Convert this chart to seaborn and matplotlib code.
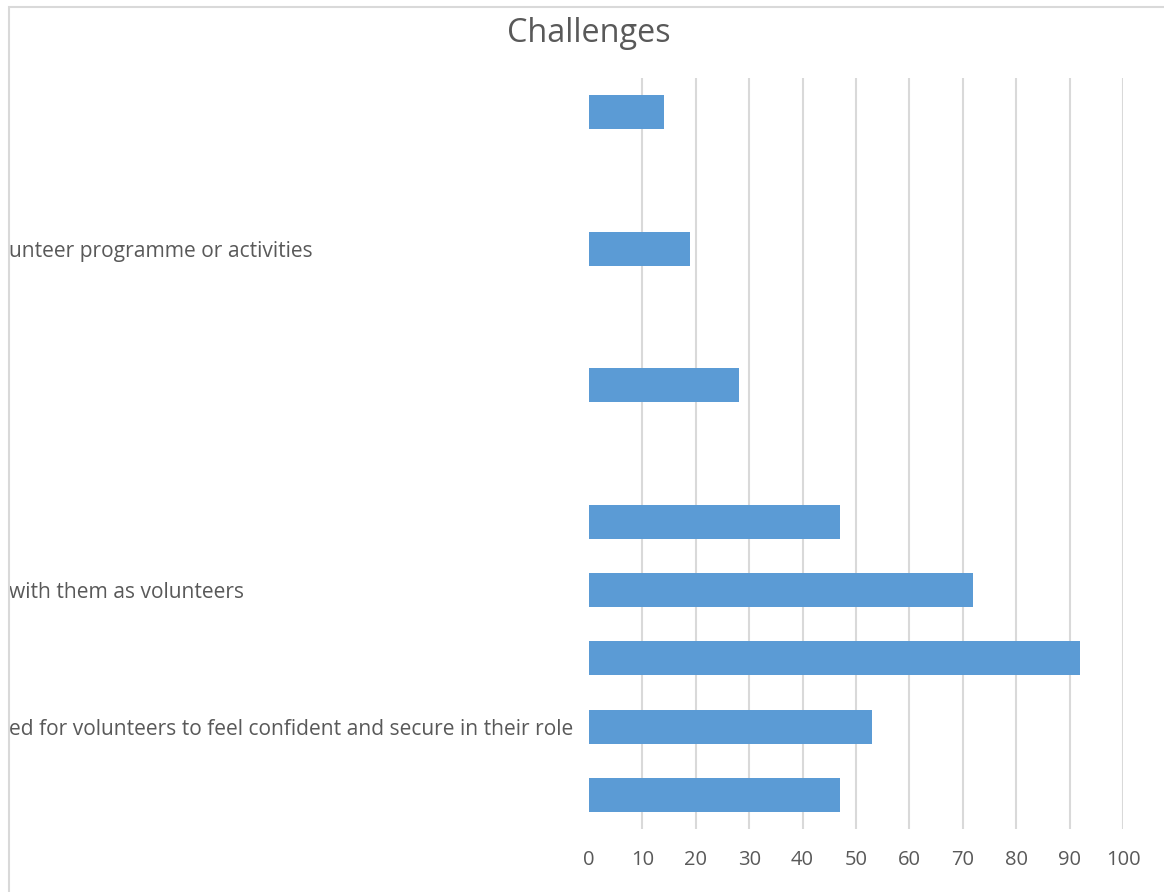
import matplotlib
matplotlib.use("Agg")
import matplotlib.pyplot as plt
import matplotlib.transforms as mtransforms
from matplotlib.patches import Rectangle
import seaborn as sns
import pandas as pd

# Data (top to bottom, as shown in the chart)
category_keys = ["C1", "C2", "C3", "C4", "C5", "C6", "C7", "C8", "C9", "C10", "C11"]
category_labels = [
    "",
    "",
    "unteer programme or activities",
    "",
    "",
    "",
    "",
    "with them as volunteers",
    "",
    "ed for volunteers to feel confident and secure in their role",
    "",
]
values = [14, 0, 19, 0, 28, 0, 47, 72, 92, 53, 47]
x_ticks = [0, 10, 20, 30, 40, 50, 60, 70, 80, 90, 100]
title = "Challenges"

df = pd.DataFrame({"category": category_keys, "value": values})

sns.set_theme(style="white")
plt.rcParams["font.family"] = ["Open Sans", "DejaVu Sans"]

W, H = 1164, 892
fig = plt.figure(figsize=(W / 100, H / 100), dpi=100)
ax = fig.add_axes([589 / W, 1 - 829 / H, (1123 - 589) / W, (829 - 78) / H])

bar_color = "#5B9BD5"
text_color = "#595959"
grid_color = "#D9D9D9"

sns.barplot(data=df, x="value", y="category", order=category_keys, orient="h",
            color=bar_color, width=0.5, saturation=1, ax=ax, zorder=3,
            linewidth=0)

ax.set_xlim(0, 100)
ax.set_ylim(len(category_keys) - 0.5, -0.5)
ax.set_xticks(x_ticks)
ax.set_xticklabels([str(t) for t in x_ticks])
ax.set_yticks([])
ax.set_xlabel("")
ax.set_ylabel("")
for s in ax.spines.values():
    s.set_visible(False)

ax.tick_params(axis="x", length=0, pad=15, labelsize=14.5, labelcolor=text_color)
ax.grid(axis="x", color=grid_color, linewidth=1.5, zorder=0)
ax.set_axisbelow(True)
gl = ax.xaxis.get_gridlines()
if gl:
    gl[0].set_visible(False)

# Category labels (clipped at the left of the chart)
trans = mtransforms.blended_transform_factory(fig.transFigure, ax.transData)
for i, lab in enumerate(category_labels):
    if lab:
        ax.text(9 / W, i, lab, transform=trans, ha="left", va="center_baseline",
                fontsize=15.1, color=text_color, clip_on=False)

fig.text(589 / W, 1 - 33 / H, title, ha="center", va="center",
         fontsize=23.3, color=text_color)

# Chart border (left and top edges visible)
fig.add_artist(Rectangle((8.5 / W, -0.5), 2.0, 1.5 - 6.5 / H,
                         transform=fig.transFigure, fill=False,
                         edgecolor=grid_color, linewidth=1.5))

fig.savefig("out.png", dpi=100, facecolor="white")
